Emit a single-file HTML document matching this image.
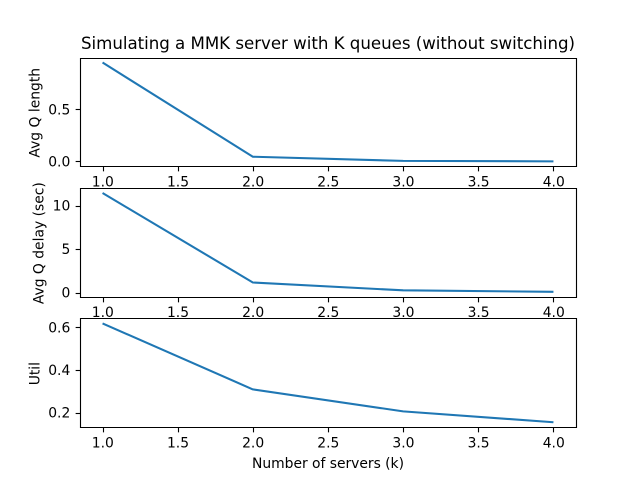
<!DOCTYPE html>
<html>
<head>
<meta charset="utf-8">
<title>Simulating a MMK server with K queues</title>
<style>
html,body{margin:0;padding:0;background:#fff;}
svg{display:block;}
text{font-family:"DejaVu Sans",sans-serif;fill:#000;}
</style>
</head>
<body>
<svg id="chart" xmlns="http://www.w3.org/2000/svg" width="640" height="480" viewBox="0 0 640 480">
<rect width="640" height="480" fill="#fff"></rect>
<text x="328" y="49" font-size="16.67" text-anchor="middle" letter-spacing="-0.03">Simulating a MMK server with K queues (without switching)</text>
<text x="328" y="468" font-size="13.89" text-anchor="middle" letter-spacing="-0.02">Number of servers (k)</text>
</svg>
<script>
const servers = [1, 2, 3, 4];
const avgQueueLength = [0.947, 0.045, 0.005, 0.0005];
const avgQueueDelay = [11.45, 1.15, 0.25, 0.08];
const utilization = [0.618, 0.309, 0.206, 0.155];
const xTicks = ['1.0', '1.5', '2.0', '2.5', '3.0', '3.5', '4.0'];
const lengthTicks = ['0.0', '0.5'];
const delayTicks = ['0', '5', '10'];
const utilTicks = ['0.2', '0.4', '0.6'];

const NS = 'http://www.w3.org/2000/svg';
const svg = document.getElementById('chart');
const LEFT = 80, RIGHT = 576;

function make(tag, attrs, parent) {
  const el = document.createElementNS(NS, tag);
  for (const k in attrs) el.setAttribute(k, attrs[k]);
  parent.appendChild(el);
  return el;
}
function snap(v) { return Math.floor(v + 0.5) + 0.5; }
function extent(values) {
  const lo = Math.min.apply(null, values), hi = Math.max.apply(null, values);
  const pad = (hi - lo) * 0.05;
  return [lo - pad, hi + pad];
}
const xDomain = extent(servers);
function xScale(v) {
  return LEFT + (v - xDomain[0]) / (xDomain[1] - xDomain[0]) * (RIGHT - LEFT);
}

function drawPanel(key, top, bottom, values, yTicks, yLabel, yLabelX) {
  const yDomain = extent(values);
  const yScale = v => bottom - (v - yDomain[0]) / (yDomain[1] - yDomain[0]) * (bottom - top);
  const g = make('g', {}, svg);
  
  

  const clipId = key + '-clip';
  const defs = make('defs', {}, g);
  const clip = make('clipPath', { id: clipId }, defs);
  make('rect', { x: LEFT, y: top, width: RIGHT - LEFT, height: bottom - top }, clip);

  const points = servers.map((s, i) => xScale(s).toFixed(2) + ',' + yScale(values[i]).toFixed(2)).join(' ');
  const line = make('polyline', {
    points: points, fill: 'none', stroke: '#1f77b4', 'stroke-width': 2.08,
    'stroke-linecap': 'butt', 'stroke-linejoin': 'round', 'clip-path': 'url(#' + clipId + ')'
  }, g);
  
  

  const sL = snap(LEFT), sR = snap(RIGHT), sT = snap(top), sB = snap(bottom);
  const frame = make('path', {
    d: 'M' + sL + ' ' + sT + 'H' + sR + 'V' + sB + 'H' + sL + 'Z',
    fill: 'none', stroke: '#000', 'stroke-width': 1.11, 'stroke-linejoin': 'miter'
  }, g);
  
  

  xTicks.forEach(label => {
    const x = snap(xScale(parseFloat(label)));
    const tick = make('line', { x1: x, x2: x, y1: sB, y2: sB + 4.86, stroke: '#000', 'stroke-width': 1.11 }, g);
    
    
    const text = make('text', { x: xScale(parseFloat(label)) + 0.3, y: bottom + 20.4, 'font-size': 13.89, 'text-anchor': 'middle' }, g);
    text.textContent = label;
    
    
  });

  yTicks.forEach(label => {
    const v = parseFloat(label);
    const y = snap(yScale(v));
    const tick = make('line', { x1: sL - 4.86, x2: sL, y1: y, y2: y, stroke: '#000', 'stroke-width': 1.11 }, g);
    
    
    const text = make('text', { x: 70.3, y: yScale(v) + 5.05, 'font-size': 13.89, 'text-anchor': 'end' }, g);
    text.textContent = label;
    
    
  });

  const cy = (top + bottom) / 2 + 0.8;
  const title = make('text', {
    x: yLabelX, y: cy, 'font-size': 13.89, 'text-anchor': 'middle',
    transform: 'rotate(-90 ' + yLabelX + ' ' + cy + ')'
  }, g);
  title.textContent = yLabel;
  
  
}

drawPanel('queue-length', 57.6, 166.306, avgQueueLength, lengthTicks, 'Avg Q length', 39.5);
drawPanel('queue-delay', 188.047, 296.753, avgQueueDelay, delayTicks, 'Avg Q delay (sec)', 43.5);
drawPanel('utilization', 318.494, 427.2, utilization, utilTicks, 'Util', 39.5);
</script>
</body>
</html>
